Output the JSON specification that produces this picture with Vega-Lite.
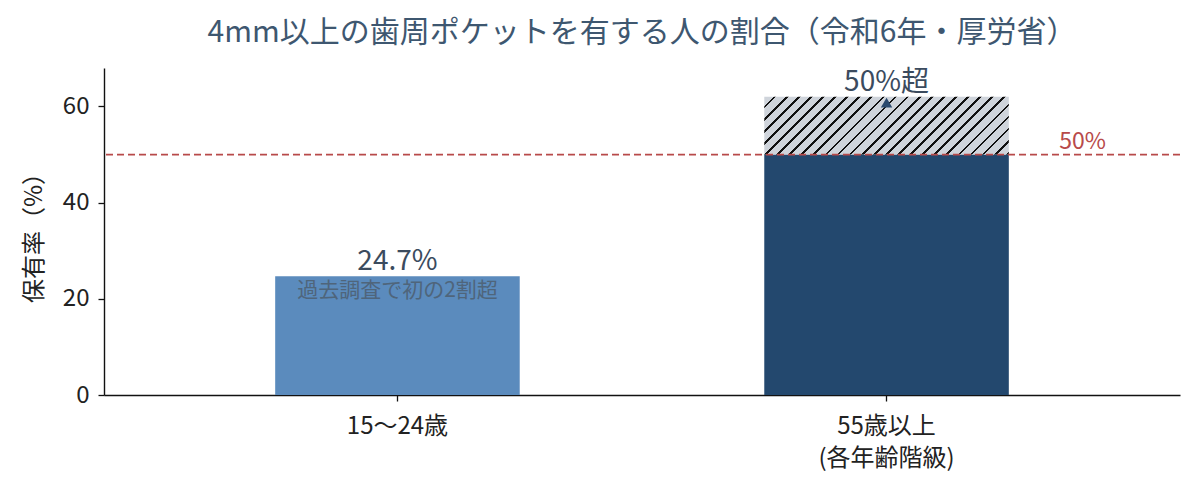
{
  "$schema": "https://vega.github.io/schema/vega-lite/v6.json",
  "autosize": "none",
  "width": 1076,
  "height": 327,
  "padding": {"left": 104, "top": 68, "right": 20, "bottom": 99},
  "background": "white",
  "config": {
    "view": {"stroke": null},
    "font": "Noto Sans CJK JP",
    "axis": {"labelFont": "Noto Sans CJK JP", "titleFont": "Noto Sans CJK JP", "grid": false, "domainColor": "#111", "tickColor": "#111", "labelColor": "#222", "titleColor": "#222", "labelFontSize": 24, "titleFontSize": 24, "titleFontWeight": "normal", "domainWidth": 1.4, "tickWidth": 1.3, "tickSize": 6}
  },
  "title": {"text": "4mm以上の歯周ポケットを有する人の割合（令和6年・厚労省）", "font": "Noto Sans CJK JP", "fontSize": 30, "fontWeight": "normal", "color": "#3e5770", "anchor": "middle", "offset": 20},
  "datasets": {
    "bars": [
      {"group": "15～24歳", "y0": 0, "y1": 24.7, "part": "young"},
      {"group": "55歳以上", "y0": 0, "y1": 50, "part": "old"}
    ],
    "excess": [
      {"group": "55歳以上", "y0": 50, "y1": 62}
    ],
    "labels": [
      {"group": "15～24歳", "y": 24.7, "text": "24.7%"},
      {"group": "55歳以上", "y": 62, "text": "50%超"}
    ],
    "notes": [
      {"group": "15～24歳", "y": 24.7, "text": "過去調査で初の2割超"}
    ],
    "marker": [
      {"group": "55歳以上", "y": 60.8}
    ],
    "threshold": [
      {"group": "55歳以上", "y": 50, "text": "50%"}
    ]
  },
  "encoding": {
    "x": {
      "field": "group", "type": "nominal", "sort": ["15～24歳", "55歳以上"],
      "scale": {"domain": ["15～24歳", "55歳以上"], "paddingInner": 0.5, "paddingOuter": 0.35},
      "axis": {"title": null, "labelAngle": 0, "labelPadding": 13, "labelLineHeight": 32, "labelBaseline": "top",
        "labelExpr": "datum.value == '55歳以上' ? ['55歳以上', '(各年齢階級)'] : datum.label"}
    }
  },
  "layer": [
    {
      "data": {"name": "bars"},
      "mark": {"type": "bar"},
      "encoding": {
        "y": {"field": "y1", "type": "quantitative", "scale": {"domain": [0, 68], "nice": false},
          "axis": {"title": "保有率（%）", "values": [0, 20, 40, 60], "titlePadding": 16, "labelPadding": 9}},
        "y2": {"field": "y0"},
        "fill": {"field": "part", "type": "nominal", "scale": {"domain": ["young", "old"], "range": ["#5b8bbd", "#23486e"]}, "legend": null}
      }
    },
    {
      "data": {"name": "excess"},
      "mark": {"type": "bar", "fill": {
        "gradient": "linear", "x1": 0, "y1": 0, "x2": 1.171, "y2": 0.2764,
        "stops": [
          {"offset": 0, "color": "#cfd4db"},
          {"offset": 0.03, "color": "#cfd4db"}, {"offset": 0.03, "color": "#111111"}, {"offset": 0.039, "color": "#111111"}, {"offset": 0.039, "color": "#cfd4db"},
          {"offset": 0.07, "color": "#cfd4db"}, {"offset": 0.07, "color": "#111111"}, {"offset": 0.079, "color": "#111111"}, {"offset": 0.079, "color": "#cfd4db"},
          {"offset": 0.11, "color": "#cfd4db"}, {"offset": 0.11, "color": "#111111"}, {"offset": 0.119, "color": "#111111"}, {"offset": 0.119, "color": "#cfd4db"},
          {"offset": 0.15, "color": "#cfd4db"}, {"offset": 0.15, "color": "#111111"}, {"offset": 0.159, "color": "#111111"}, {"offset": 0.159, "color": "#cfd4db"},
          {"offset": 0.19, "color": "#cfd4db"}, {"offset": 0.19, "color": "#111111"}, {"offset": 0.199, "color": "#111111"}, {"offset": 0.199, "color": "#cfd4db"},
          {"offset": 0.23, "color": "#cfd4db"}, {"offset": 0.23, "color": "#111111"}, {"offset": 0.239, "color": "#111111"}, {"offset": 0.239, "color": "#cfd4db"},
          {"offset": 0.27, "color": "#cfd4db"}, {"offset": 0.27, "color": "#111111"}, {"offset": 0.279, "color": "#111111"}, {"offset": 0.279, "color": "#cfd4db"},
          {"offset": 0.31, "color": "#cfd4db"}, {"offset": 0.31, "color": "#111111"}, {"offset": 0.319, "color": "#111111"}, {"offset": 0.319, "color": "#cfd4db"},
          {"offset": 0.35, "color": "#cfd4db"}, {"offset": 0.35, "color": "#111111"}, {"offset": 0.359, "color": "#111111"}, {"offset": 0.359, "color": "#cfd4db"},
          {"offset": 0.39, "color": "#cfd4db"}, {"offset": 0.39, "color": "#111111"}, {"offset": 0.399, "color": "#111111"}, {"offset": 0.399, "color": "#cfd4db"},
          {"offset": 0.43, "color": "#cfd4db"}, {"offset": 0.43, "color": "#111111"}, {"offset": 0.439, "color": "#111111"}, {"offset": 0.439, "color": "#cfd4db"},
          {"offset": 0.47, "color": "#cfd4db"}, {"offset": 0.47, "color": "#111111"}, {"offset": 0.479, "color": "#111111"}, {"offset": 0.479, "color": "#cfd4db"},
          {"offset": 0.51, "color": "#cfd4db"}, {"offset": 0.51, "color": "#111111"}, {"offset": 0.519, "color": "#111111"}, {"offset": 0.519, "color": "#cfd4db"},
          {"offset": 0.55, "color": "#cfd4db"}, {"offset": 0.55, "color": "#111111"}, {"offset": 0.559, "color": "#111111"}, {"offset": 0.559, "color": "#cfd4db"},
          {"offset": 0.59, "color": "#cfd4db"}, {"offset": 0.59, "color": "#111111"}, {"offset": 0.599, "color": "#111111"}, {"offset": 0.599, "color": "#cfd4db"},
          {"offset": 0.63, "color": "#cfd4db"}, {"offset": 0.63, "color": "#111111"}, {"offset": 0.639, "color": "#111111"}, {"offset": 0.639, "color": "#cfd4db"},
          {"offset": 0.67, "color": "#cfd4db"}, {"offset": 0.67, "color": "#111111"}, {"offset": 0.679, "color": "#111111"}, {"offset": 0.679, "color": "#cfd4db"},
          {"offset": 0.71, "color": "#cfd4db"}, {"offset": 0.71, "color": "#111111"}, {"offset": 0.719, "color": "#111111"}, {"offset": 0.719, "color": "#cfd4db"},
          {"offset": 0.75, "color": "#cfd4db"}, {"offset": 0.75, "color": "#111111"}, {"offset": 0.759, "color": "#111111"}, {"offset": 0.759, "color": "#cfd4db"},
          {"offset": 0.79, "color": "#cfd4db"}, {"offset": 0.79, "color": "#111111"}, {"offset": 0.799, "color": "#111111"}, {"offset": 0.799, "color": "#cfd4db"},
          {"offset": 0.83, "color": "#cfd4db"}, {"offset": 0.83, "color": "#111111"}, {"offset": 0.839, "color": "#111111"}, {"offset": 0.839, "color": "#cfd4db"},
          {"offset": 0.87, "color": "#cfd4db"}, {"offset": 0.87, "color": "#111111"}, {"offset": 0.879, "color": "#111111"}, {"offset": 0.879, "color": "#cfd4db"},
          {"offset": 0.91, "color": "#cfd4db"}, {"offset": 0.91, "color": "#111111"}, {"offset": 0.919, "color": "#111111"}, {"offset": 0.919, "color": "#cfd4db"},
          {"offset": 0.95, "color": "#cfd4db"}, {"offset": 0.95, "color": "#111111"}, {"offset": 0.959, "color": "#111111"}, {"offset": 0.959, "color": "#cfd4db"},
          {"offset": 0.99, "color": "#cfd4db"}, {"offset": 0.99, "color": "#111111"}, {"offset": 0.999, "color": "#111111"}, {"offset": 0.999, "color": "#cfd4db"},
          {"offset": 1, "color": "#cfd4db"}
        ]}},
      "encoding": {
        "y": {"field": "y1", "type": "quantitative"},
        "y2": {"field": "y0"}
      }
    },
    {
      "data": {"name": "threshold"},
      "mark": {"type": "rule", "color": "#b84a4a", "strokeWidth": 1.8, "strokeDash": [7, 4]},
      "encoding": {"y": {"field": "y", "type": "quantitative"}, "x": null}
    },
    {
      "data": {"name": "threshold"},
      "mark": {"type": "text", "color": "#b84a4a", "fontSize": 23, "baseline": "bottom", "dx": 196, "dy": -1},
      "encoding": {"y": {"field": "y", "type": "quantitative"}, "text": {"field": "text"}}
    },
    {
      "data": {"name": "labels"},
      "mark": {"type": "text", "color": "#3b4b5e", "fontSize": 28, "baseline": "bottom", "dy": 0},
      "encoding": {"y": {"field": "y", "type": "quantitative"}, "text": {"field": "text"}}
    },
    {
      "data": {"name": "notes"},
      "mark": {"type": "text", "color": "#4a5560", "opacity": 0.7, "fontSize": 21, "baseline": "middle", "dy": 15},
      "encoding": {"y": {"field": "y", "type": "quantitative"}, "text": {"field": "text"}}
    },
    {
      "data": {"name": "marker"},
      "mark": {"type": "point", "shape": "triangle-up", "filled": true, "color": "#2b4a6e", "size": 130, "opacity": 1},
      "encoding": {"y": {"field": "y", "type": "quantitative"}}
    }
  ]
}
